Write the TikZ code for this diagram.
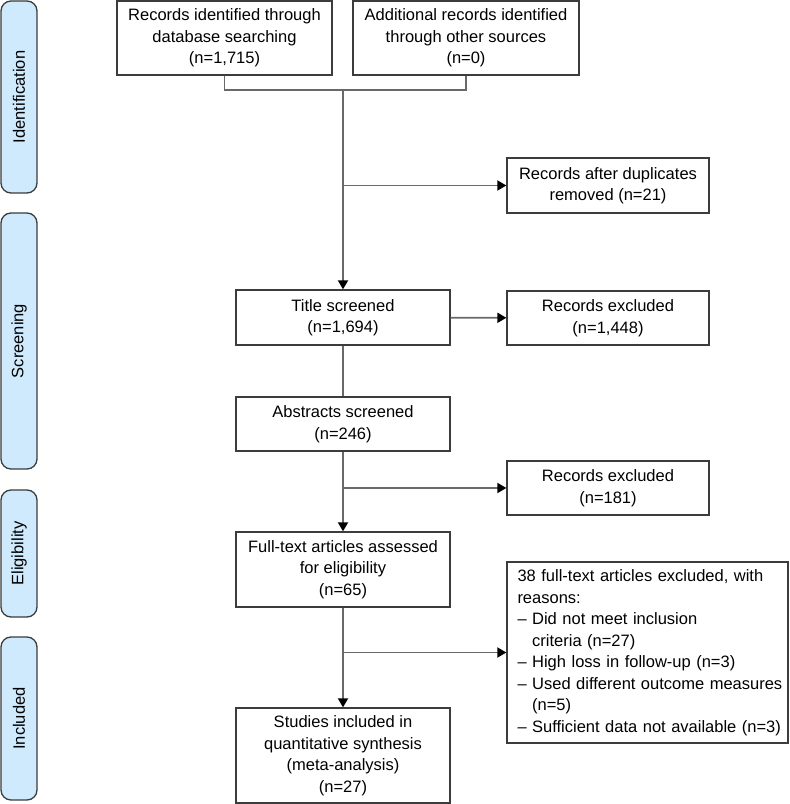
\documentclass[tikz,border=0pt]{standalone}
\usepackage{fontspec}
\setmainfont{Liberation Sans}
\usetikzlibrary{arrows.meta}
\definecolor{tabblue}{RGB}{206,234,252}
\definecolor{boxgray}{RGB}{60,60,60}
\definecolor{linegray}{RGB}{105,105,105}
\newcommand{\hang}{\hphantom{– }}

\begin{document}
\begin{tikzpicture}[x=0.5pt,y=0.5pt,font=\fontsize{8.25}{10.75}\selectfont]
\tikzset{
  box/.style={draw=boxgray,line width=0.65pt,fill=white,align=center,inner sep=2pt},
  tab/.style={draw=boxgray,line width=0.65pt,fill=tabblue,rounded corners=5pt,rotate=90,inner sep=0pt,minimum height=18pt},
  link/.style={draw=linegray,line width=0.9pt},
  flow/.style={link,-{Triangle[length=4.5pt,width=5pt,color=black]}}
}
\useasboundingbox (0,0) rectangle (789,804);

% stage tabs
\node[tab,minimum width=96pt] (ident) at (19,707) {Identification};
\node[tab,minimum width=128pt] (screen) at (19,463) {Screening};
\node[tab,minimum width=63.5pt] (elig) at (19,250.5) {Eligibility};
\node[tab,minimum width=81.5pt] (incl) at (19,85.5) {Included};

% boxes
\node[box,minimum width=107.5pt,minimum height=37pt] (db) at (224.5,766) {Records identified through\\database searching\\(n=1,715)};
\node[box,minimum width=113pt,minimum height=37pt] (oth) at (466,766) {Additional records identified\\through other sources\\(n=0)};
\node[box,minimum width=101pt,minimum height=27.5pt] (dup) at (608,618.5) {Records after duplicates\\removed (n=21)};
\node[box,minimum width=107pt,minimum height=27.5pt] (tit) at (343,486.5) {Title screened\\(n=1,694)};
\node[box,minimum width=101pt,minimum height=27pt] (ex1) at (608,486) {Records excluded\\(n=1,448)};
\node[box,minimum width=107pt,minimum height=27pt] (abs) at (343,380) {Abstracts screened\\(n=246)};
\node[box,minimum width=101pt,minimum height=27pt] (ex2) at (608,316) {Records excluded\\(n=181)};
\node[box,minimum width=107pt,minimum height=37.5pt] (full) at (343,234.5) {Full-text articles assessed\\for eligibility\\(n=65)};
\node[box,align=left,text width=135pt,inner xsep=2.75pt,minimum height=90.5pt] (ex3) at (647.5,151.5) {\hspace*{2.5pt}38 full-text articles excluded, with\\\hspace*{2.5pt}reasons:\\\hspace*{2.5pt}– Did not meet inclusion\\\hspace*{2.5pt}\hang criteria (n=27)\\\hspace*{2.5pt}– High loss in follow-up (n=3)\\\hspace*{2.5pt}– Used different outcome measures\\\hspace*{2.5pt}\hang (n=5)\\\hspace*{2.5pt}– Sufficient data not available (n=3)};
\node[box,minimum width=107pt,minimum height=47.5pt] (syn) at (343,48.5) {Studies included in\\quantitative synthesis\\(meta-analysis)\\(n=27)};

% connectors
\coordinate (join) at (343,714);
\draw[link] (db.south) |- (join) -| (oth.south);
\draw[flow] (join) -- (tit);
\draw[flow] (join |- dup) -- (dup);
\draw[flow] (tit) -- (ex1);
\draw[link] (tit) -- (abs);
\draw[flow] (abs) -- (full);
\draw[flow] (abs |- ex2) -- (ex2);
\draw[flow] (full) -- (syn);
\draw[flow] (full |- ex3) -- (ex3);

\end{tikzpicture}
\end{document}
